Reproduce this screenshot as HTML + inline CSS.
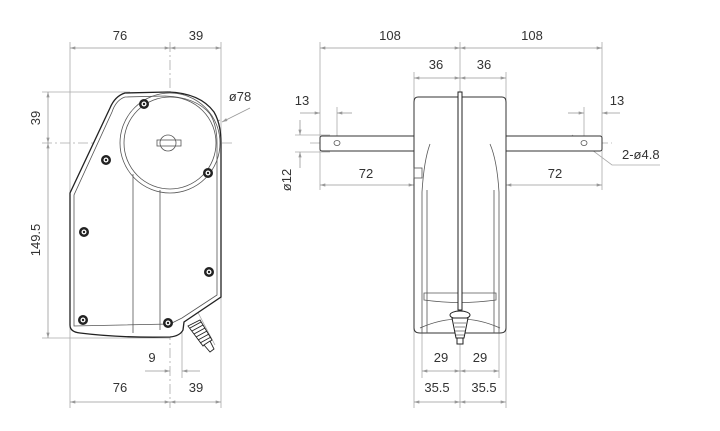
<!DOCTYPE html>
<html><head><meta charset="utf-8"><style>
html,body{margin:0;padding:0;background:#fff;width:720px;height:431px;overflow:hidden}
text{font-family:"Liberation Sans",sans-serif;font-size:13px;fill:#333}
</style></head><body>
<svg width="720" height="431" viewBox="0 0 720 431" xmlns="http://www.w3.org/2000/svg">
<defs>
<marker id="a" viewBox="0 0 10 6" refX="10" refY="3" markerWidth="8" markerHeight="4" orient="auto-start-reverse"><path d="M0,0L10,3L0,6z" fill="#999"/></marker>
</defs>
<g stroke="#aaa" stroke-width="0.8" fill="none">
<line x1="70" y1="42" x2="70" y2="408"/>
<line x1="221" y1="42" x2="221" y2="408"/>
<line x1="170" y1="42" x2="170" y2="408" stroke-dasharray="10,3,2,3"/>
<line x1="182" y1="330" x2="182" y2="378"/>
<line x1="42" y1="92" x2="130" y2="92"/>
<line x1="42" y1="143" x2="235" y2="143" stroke-dasharray="10,3,2,3"/>
<line x1="42" y1="338" x2="170" y2="338"/>
<line x1="193" y1="303" x2="215" y2="345"/>
<line x1="320" y1="42" x2="320" y2="190"/>
<line x1="602" y1="42" x2="602" y2="190"/>
<line x1="460" y1="42" x2="460" y2="408"/>
<line x1="414" y1="72" x2="414" y2="408"/>
<line x1="506" y1="72" x2="506" y2="408"/>
<line x1="422" y1="330" x2="422" y2="378"/>
<line x1="499" y1="330" x2="499" y2="378"/>
<line x1="337" y1="107" x2="337" y2="150"/>
<line x1="584" y1="107" x2="584" y2="150"/>
<line x1="295" y1="135" x2="330" y2="135"/>
<line x1="295" y1="152" x2="330" y2="152"/>
<line x1="310" y1="143" x2="612" y2="143" stroke-dasharray="10,3,2,3"/>
<polyline points="572,135 612,165 660,165"/>
</g>
<g stroke="#999" stroke-width="0.8" fill="none" marker-start="url(#a)" marker-end="url(#a)">
<line x1="70" y1="48" x2="170" y2="48"/><line x1="170" y1="48" x2="221" y2="48"/>
<line x1="70" y1="402" x2="170" y2="402"/><line x1="170" y1="402" x2="221" y2="402"/>
<line x1="48" y1="92" x2="48" y2="143"/><line x1="48" y1="143" x2="48" y2="338"/>
<line x1="320" y1="48" x2="460" y2="48"/><line x1="460" y1="48" x2="602" y2="48"/>
<line x1="414" y1="78" x2="460" y2="78"/><line x1="460" y1="78" x2="506" y2="78"/>
<line x1="320" y1="185" x2="414" y2="185"/><line x1="506" y1="185" x2="602" y2="185"/>
<line x1="422" y1="371" x2="460" y2="371"/><line x1="460" y1="371" x2="499" y2="371"/>
<line x1="414" y1="402" x2="460" y2="402"/><line x1="460" y1="402" x2="506" y2="402"/>
<line x1="118" y1="171" x2="220" y2="120"/>
</g>
<g stroke="#999" stroke-width="0.8" fill="none" marker-end="url(#a)">
<line x1="145" y1="371" x2="170" y2="371"/><line x1="200" y1="371" x2="182" y2="371"/>
<line x1="300" y1="113" x2="320" y2="113"/><line x1="352" y1="113" x2="337" y2="113"/>
<line x1="568" y1="113" x2="584" y2="113"/><line x1="620" y1="113" x2="602" y2="113"/>
<line x1="300" y1="120" x2="300" y2="135"/><line x1="300" y1="168" x2="300" y2="152"/>
<line x1="250" y1="108" x2="222" y2="122"/>
</g>
<g stroke="#222" stroke-width="1.3" fill="#fff">
<path d="M125,93 L168,92 Q200,93 214,112 Q221,124 221,143 L221,297 L184,322 L183,330 Q180,336 170,337 Q120,338 80,333 Q70,332 70,325 L70,193 L110,108 Q115,96 125,93 Z"/>
</g>
<g stroke="#555" stroke-width="0.8" fill="none">
<path d="M125,97 L165,96 Q196,97 210,114 Q217,125 217,143 L217,295 L182,318 L170,324 L74,326 L74,195 L112,112 Q116,100 125,97"/>
<circle cx="170" cy="143" r="46"/><circle cx="170" cy="143" r="50"/>
<line x1="133" y1="174" x2="133" y2="333"/>
<line x1="160" y1="190" x2="160" y2="330"/>
<circle cx="168" cy="143" r="8"/><rect x="157" y="140" width="24" height="6"/>
</g>
<g stroke="#222" stroke-width="0.9" fill="#fff">
<path d="M188,326 L203,346 L212,340 L200,320 Z"/>
<path d="M190,328 l11,-6 M192,331 l11,-6 M194,334 l11,-6 M196,337 l11,-6 M198,340 l11,-6 M200,343 l11,-6" fill="none"/>
<path d="M204,345 L210,352 L214,349 L210,341 Z"/>
</g>
<g fill="#222">
<circle cx="144" cy="104" r="5"/><circle cx="106" cy="160" r="5"/><circle cx="84" cy="232" r="5"/><circle cx="83" cy="320" r="5"/><circle cx="168" cy="323" r="5"/><circle cx="208" cy="173" r="5"/><circle cx="209" cy="272" r="5"/>
</g>
<g fill="#fff"><circle cx="144" cy="104" r="2.5"/><circle cx="106" cy="160" r="2.5"/><circle cx="84" cy="232" r="2.5"/><circle cx="83" cy="320" r="2.5"/><circle cx="168" cy="323" r="2.5"/><circle cx="208" cy="173" r="2.5"/><circle cx="209" cy="272" r="2.5"/></g>
<g fill="#222"><circle cx="144" cy="104" r="1.2"/><circle cx="106" cy="160" r="1.2"/><circle cx="84" cy="232" r="1.2"/><circle cx="83" cy="320" r="1.2"/><circle cx="168" cy="323" r="1.2"/><circle cx="208" cy="173" r="1.2"/><circle cx="209" cy="272" r="1.2"/></g>
<g stroke="#333" stroke-width="1" fill="#fff">
<rect x="320" y="136" width="96" height="15" rx="2"/>
<rect x="504" y="136" width="98" height="15" rx="2"/>
<path d="M418,97 L502,97 Q506,97 506,102 L506,328 Q506,333 500,333 L420,333 Q414,333 414,328 L414,102 Q414,97 418,97 Z"/>
</g>
<g stroke="#555" stroke-width="0.8" fill="none">
<path d="M422,333 L422,192 Q424,160 430,144"/><path d="M499,333 L499,192 Q497,160 490,144"/>
<line x1="427" y1="190" x2="427" y2="333"/><line x1="494" y1="190" x2="494" y2="333"/>
<rect x="414" y="168" width="8" height="10"/>
<path d="M424,293 L496,293 L496,300 Q460,305 424,300 Z"/>
<path d="M420,328 Q460,310 500,328"/>
<ellipse cx="337" cy="143" rx="3" ry="2.5"/><ellipse cx="584" cy="143" rx="3" ry="2.5"/>
</g>
<rect x="458" y="92" width="4" height="218" fill="#fff" stroke="#222" stroke-width="1"/>
<g stroke="#222" stroke-width="1" fill="#fff">
<ellipse cx="460" cy="315" rx="10" ry="4"/>
<path d="M452,318 L456,338 L464,338 L468,318 Z"/>
<rect x="457" y="338" width="6" height="6"/>
</g>
<g stroke="#555" stroke-width="0.7"><line x1="454" y1="323" x2="466" y2="323"/><line x1="455" y1="327" x2="465" y2="327"/><line x1="455" y1="331" x2="465" y2="331"/><line x1="456" y1="335" x2="464" y2="335"/></g>
<text x="120" y="40" text-anchor="middle">76</text>
<text x="196" y="40" text-anchor="middle">39</text>
<text x="240" y="101" text-anchor="middle">ø78</text>
<text x="152" y="362" text-anchor="middle">9</text>
<text x="120" y="392" text-anchor="middle">76</text>
<text x="196" y="392" text-anchor="middle">39</text>
<text transform="translate(40,118) rotate(-90)" text-anchor="middle">39</text>
<text transform="translate(40,240) rotate(-90)" text-anchor="middle">149.5</text>
<text x="390" y="40" text-anchor="middle">108</text>
<text x="532" y="40" text-anchor="middle">108</text>
<text x="436" y="69" text-anchor="middle">36</text>
<text x="484" y="69" text-anchor="middle">36</text>
<text x="302" y="105" text-anchor="middle">13</text>
<text x="617" y="105" text-anchor="middle">13</text>
<text x="366" y="178" text-anchor="middle">72</text>
<text x="555" y="178" text-anchor="middle">72</text>
<text x="622" y="159">2-ø4.8</text>
<text transform="translate(291,180) rotate(-90)" text-anchor="middle">ø12</text>
<text x="441" y="362" text-anchor="middle">29</text>
<text x="480" y="362" text-anchor="middle">29</text>
<text x="437" y="392" text-anchor="middle">35.5</text>
<text x="484" y="392" text-anchor="middle">35.5</text>
</svg>
</body></html>
